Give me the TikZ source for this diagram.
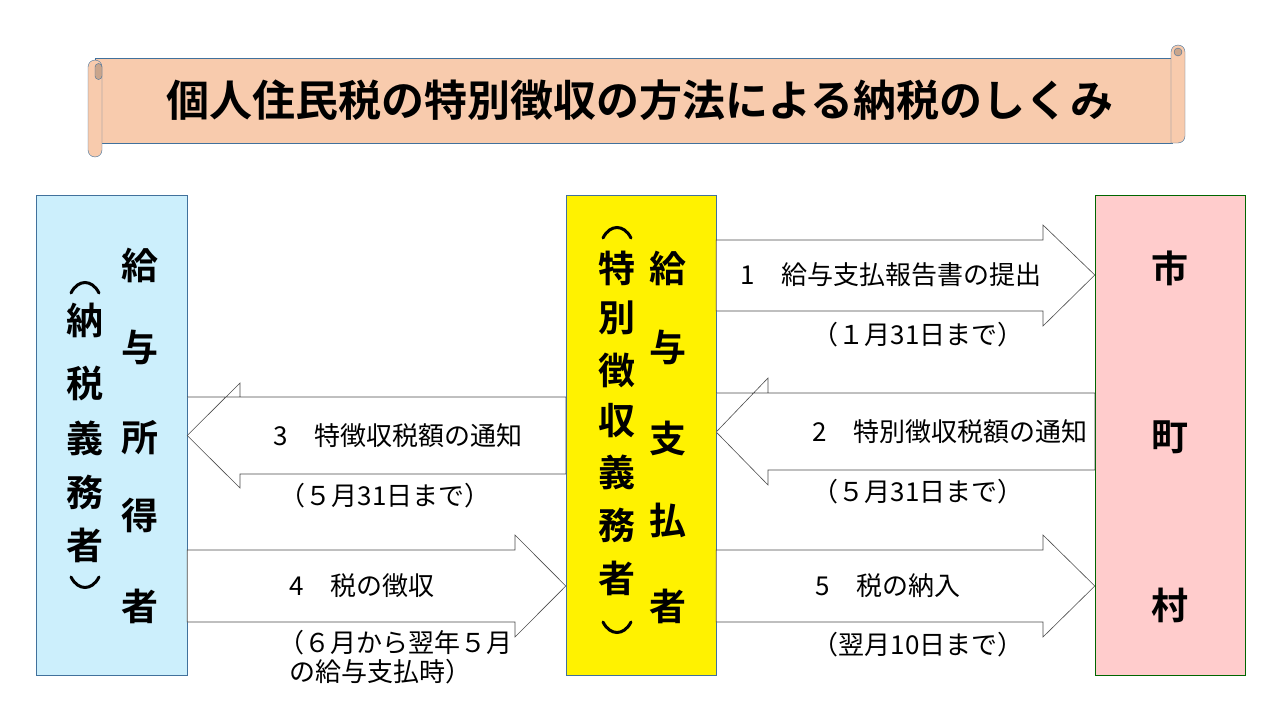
\documentclass[tikz,border=0pt]{standalone}
\usepackage{fontspec}
\setmainfont{Noto Sans CJK JP}[BoldFont={* Bold}]
\tikzset{
 blk/.style={draw=black!70,fill=white,line width=0.6pt},
 lbl/.style={font=\fontsize{26}{31}\selectfont,inner sep=0pt},
 vch/.style={font=\fontsize{37}{40}\selectfont\bfseries,inner sep=0pt},
 parc/.style={line width=3pt,line cap=round}
}
\definecolor{scrollf}{HTML}{F8CBAD}
\definecolor{scrolld}{HTML}{C9A58C}
\definecolor{bordb}{HTML}{41719C}
\begin{document}
\begin{tikzpicture}[x=1pt,y=-1pt]
\useasboundingbox (0,0) rectangle (1280,720);
% scroll
\draw[bordb,fill=scrollf] (95,58) -- (1172,58) -- (1172,143) -- (95,143) -- cycle;
\draw[bordb,fill=scrollf] (1171,52) arc (180:360:7) -- (1185,136) arc (0:90:7) -- (1171,143) -- cycle;
\draw[bordb,fill=scrolld] (1178,52) circle (4);
\draw[bordb,fill=scrollf] (88,67) arc (180:360:7) -- (102,150) arc (0:180:7) -- cycle;
\draw[bordb,fill=scrolld] (95,67) arc (180:360:3.5) -- (102,76) arc (0:180:3.5)--cycle;
\node[font=\fontsize{43}{46}\selectfont\bfseries] (title) at (640,100) {個人住民税の特別徴収の方法による納税のしくみ};
% boxes
\node[draw=bordb,fill=cyan!20,minimum width=151,minimum height=480,inner sep=0pt] (L) at (111.5,435) {};
\node[draw=bordb,fill=yellow,minimum width=150,minimum height=480,inner sep=0pt] (M) at (641,435) {};
\node[draw=green!40!black,fill=red!20,minimum width=150,minimum height=480,inner sep=0pt] (R) at (1170,435) {};
% arrows
\draw[blk] (L.east |- 0,397) -- (240,397) -- (240,383) -- (L.east |- 0,435.5) -- (240,488) -- (240,474) -- (M.west |- 0,474) -- (M.west |- 0,397) -- cycle;
\draw[blk] (M.east |- 0,393) -- (768,393) -- (768,378) -- (M.east |- 0,432) -- (768,485) -- (768,470) -- (R.west |- 0,470) -- (R.west |- 0,393) -- cycle;
\draw[blk] (M.east |- 0,240) -- (1043,240) -- (1043,225) -- (R.west |- 0,275) -- (1043,326) -- (1043,311) -- (M.east |- 0,311) -- cycle;
\draw[blk] (L.east |- 0,550) -- (515,550) -- (515,535) -- (M.west |- 0,586) -- (515,637) -- (515,622) -- (L.east |- 0,622) -- cycle;
\draw[blk] (M.east |- 0,550) -- (1043,550) -- (1043,535) -- (R.west |- 0,586) -- (1043,637) -- (1043,622) -- (M.east |- 0,622) -- cycle;
% labels
\node[lbl] (a1) at (891,275) {1\quad 給与支払報告書の提出};
\node[lbl] (b1) at (918,335) {（１月31日まで）};
\node[lbl] (a2) at (950,432) {2\quad 特別徴収税額の通知};
\node[lbl] (b2) at (918,492) {（５月31日まで）};
\node[lbl] (a3) at (398,436) {3\quad 特徴収税額の通知};
\node[lbl] (b3) at (385,496) {（５月31日まで）};
\node[lbl] (a4) at (362,586) {4\quad 税の徴収};
\node[lbl,align=left,anchor=north west] (b4) at (278,630) {（６月から翌年５月\\[-2pt]\ \ の給与支払時）};
\node[lbl] (a5) at (888,586) {5\quad 税の納入};
\node[lbl] (b5) at (918,645) {（翌月10日まで）};
% left
\foreach \c/\y in {給/265,与/347,所/438,得/515,者/606}{\node[vch] at (140,\y) {\c};}
\draw[parc] (71,293) .. controls (78,279) and (92,279) .. (99,293);
\foreach \c/\y in {納/320,税/383,義/438,務/492,者/545}{\node[vch] at (85,\y) {\c};}
\draw[parc] (71,577) .. controls (78,591) and (92,591) .. (99,577);
% middle
\foreach \c/\y in {給/268,与/347,支/438,払/520,者/606}{\node[vch] at (668,\y) {\c};}
\draw[parc] (603,238) .. controls (610,224) and (624,224) .. (631,238);
\foreach \c/\y in {特/268,別/318,徴/370,収/421,義/472,務/525,者/578}{\node[vch] at (617,\y) {\c};}
\draw[parc] (603,622) .. controls (610,636) and (624,636) .. (631,622);
% right
\foreach \c/\y in {市/268,町/437,村/605}{\node[vch] at (1170,\y) {\c};}
\end{tikzpicture}
\end{document}
